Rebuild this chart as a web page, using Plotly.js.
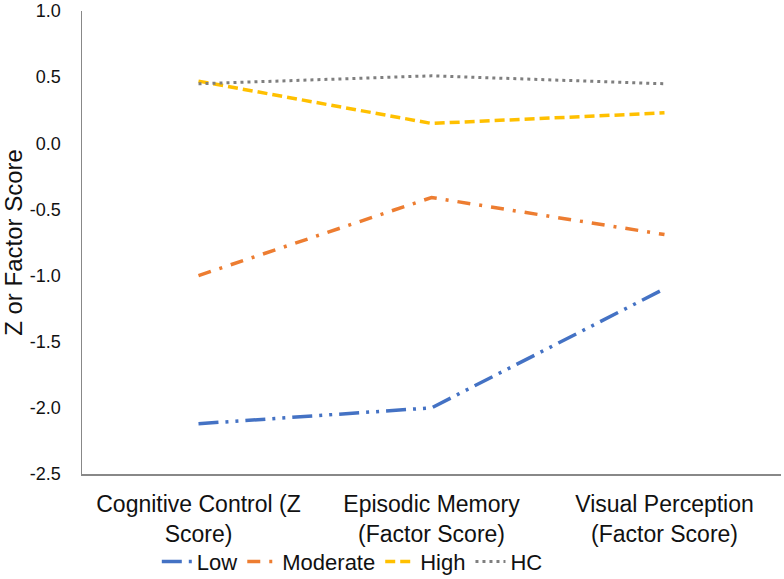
<!DOCTYPE html>
<html>
<head>
<meta charset="utf-8">
<script src="https://cdn.plot.ly/plotly-3.0.1.min.js"></script>
<style>
  html, body { margin: 0; padding: 0; background: #fff; }
  #chart { width: 784px; height: 579px; }
</style>
</head>
<body>
<div id="chart"></div>
<script>
// Domains on the x axis
const categories = [
  "Cognitive Control (Z<br>Score)",
  "Episodic Memory<br>(Factor Score)",
  "Visual Perception<br>(Factor Score)"
];

// Group means
const lowValues = [-2.12, -2.00, -1.10];
const moderateValues = [-1.00, -0.41, -0.69];
const highValues = [0.47, 0.15, 0.23];
const hcValues = [0.45, 0.51, 0.45];

const yTicks = [-2.5, -2.0, -1.5, -1.0, -0.5, 0.0, 0.5, 1.0];

const FONT = "Liberation Sans, Arial, sans-serif";

function series(name, values, color, dash, width) {
  return {
    x: categories,
    y: values,
    name: name,
    type: "scatter",
    mode: "lines",
    line: { color: color, width: width, dash: dash }
  };
}

const traces = [
  series("Low", lowValues, "#4472C4", "20px,7px,3px,7px,3px,7px", 3.5),
  series("Moderate", moderateValues, "#ED7D31", "13px,9px,3px,9px", 3.5),
  series("High", highValues, "#FFC000", "10px,5px", 3.5),
  series("HC", hcValues, "#7F7F7F", "3px,4px", 3)
];

const layout = {
  width: 784,
  height: 579,
  paper_bgcolor: "#fff",
  plot_bgcolor: "#fff",
  font: { family: FONT, color: "#1a1a1a" },
  margin: { l: 82, r: 3, t: 11, b: 105 },
  showlegend: true,
  xaxis: {
    type: "category",
    range: [-0.5, 2.5],
    showgrid: false,
    zeroline: false,
    showline: true,
    linecolor: "#888",
    linewidth: 1.5,
    ticks: "",
    ticklabelstandoff: 9,
    tickfont: { size: 23, family: FONT, color: "#111" }
  },
  yaxis: {
    range: [-2.5, 1.0],
    tickvals: yTicks,
    ticktext: yTicks.map(v => v.toFixed(1)),
    showgrid: false,
    zeroline: false,
    showline: true,
    linecolor: "#888",
    linewidth: 1.5,
    ticks: "",
    ticklabelstandoff: 16,
    tickfont: { size: 18, family: FONT, color: "#111" },
    title: {
      text: "Z or Factor Score",
      font: { size: 24, family: FONT, color: "#111" },
      standoff: 8
    }
  },
  legend: {
    orientation: "h",
    xref: "container",
    yref: "container",
    x: 0.2,
    xanchor: "left",
    y: 0.03,
    yanchor: "middle",
    font: { size: 22, family: FONT, color: "#111" },
    bgcolor: "rgba(0,0,0,0)",
    itemwidth: 30,
    tracegroupgap: 0
  }
};

Plotly.newPlot("chart", traces, layout, { displayModeBar: false, staticPlot: true });
</script>
</body>
</html>
